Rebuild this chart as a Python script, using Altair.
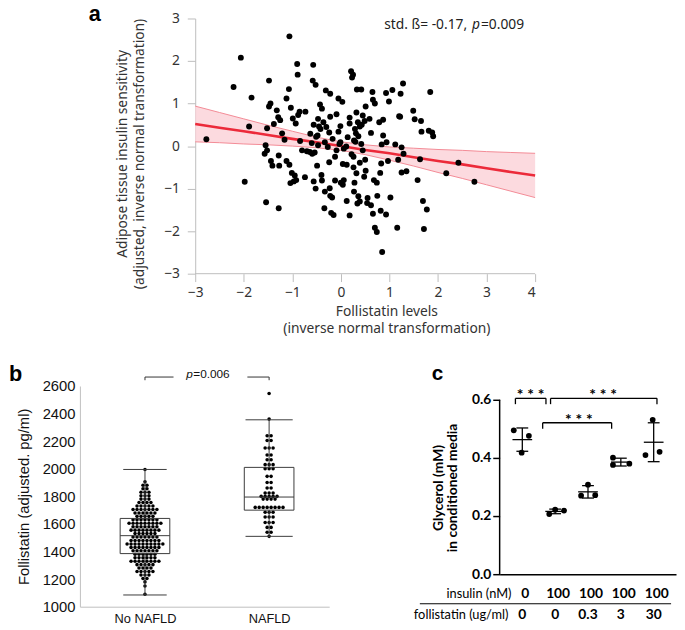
import altair as alt
import pandas as pd
import statistics

# ---------------- panel a data ----------------
fol_levels = [-2.77,-2.21,-2.06,-1.98,-1.89,-1.84,-1.48,-1.48,-1.45,-1.52,-1.55,-1.57,-1.52,-1.54,-1.44,-1.41,
              -1.32,-1.29,-1.25,-1.38,-1.28,-1.27,-1.28,-1.21,-1.16,-1.12,-1.06,-1.07,-1.03,-1.12,-1.06,-1.04,
              -1.01,-0.90,-0.89,-0.99,-0.93,-0.85,-0.84,-0.88,-0.95,-0.92,-0.97,-0.74,-0.73,-0.70,-0.64,-0.57,
              -0.58,-0.52,-0.56,-0.63,-0.60,-0.54,-0.56,-0.52,-0.49,-0.47,-0.45,-0.51,-0.47,-0.43,-0.39,-0.42,
              -0.39,-0.31,-0.22,-0.30,-0.33,-0.27,-0.33,-0.34,-0.24,-0.22,-0.24,-0.23,-0.22,-0.20,-0.15,-0.18,
              -0.12,-0.09,-0.05,-0.09,-0.05,-0.01,0.03,-0.01,0.00,0.04,0.06,0.04,0.12,0.11,0.12,0.18,
              0.21,0.25,0.23,0.18,0.18,0.22,0.27,0.29,0.31,0.33,0.42,0.32,0.35,0.36,0.26,0.26,
              0.28,0.27,0.34,0.32,0.39,0.36,0.39,0.43,0.45,0.51,0.42,0.50,0.51,0.48,0.55,0.54,
              0.62,0.66,0.59,0.62,0.65,0.66,0.70,0.68,0.74,0.70,0.74,0.75,0.79,0.87,0.84,0.83,
              0.81,0.85,0.87,0.82,0.93,0.93,0.94,0.97,0.99,1.06,1.02,1.12,1.18,1.16,1.20,1.23,
              1.28,1.25,1.29,1.25,1.35,1.49,1.52,1.65,1.63,1.58,1.66,1.69,1.77,1.71,1.84,1.81,
              1.88,1.90,2.17,2.42,2.75,-0.48,0.06,-0.03,0.14,0.39,0.49,-0.59,-0.40,-0.17,-0.12,
              0.45,1.22,-0.80,0.30,-0.36]
ais_values = [0.16,1.39,2.08,-0.84,0.46,1.14,1.54,0.93,1.00,0.42,0.02,-0.18,-0.10,-1.32,-0.35,-0.46,
              0.84,0.68,0.61,0.52,-0.22,-0.46,-1.46,0.30,0.15,1.12,2.58,1.34,0.90,-0.35,-0.44,-0.87,
              -0.63,1.93,1.68,0.65,0.53,0.81,0.12,0.73,-0.69,-0.80,-0.83,-0.73,0.81,-0.12,-0.14,1.91,
              1.54,1.44,0.50,0.29,0.07,-0.15,-0.83,-1.00,-0.46,0.64,0.46,0.22,0.02,0.98,0.88,0.40,
              -0.81,1.31,1.23,0.45,0.09,-0.02,-1.07,-1.46,0.32,0.69,-0.38,-0.99,-1.17,-1.57,-1.62,-1.21,
              -0.81,0.75,1.12,-0.10,0.34,0.47,1.04,0.09,-0.86,-0.91,-0.80,-0.42,-0.44,-0.01,-1.29,-1.63,
              1.76,1.68,1.61,0.67,0.53,-0.19,0.13,0.40,0.30,1.33,1.33,0.79,0.56,0.23,-0.25,-0.50,
              -0.86,-1.07,-1.35,-0.64,-0.39,-1.18,-1.30,0.50,0.72,0.93,0.05,-0.32,-0.58,-0.72,-1.22,-1.34,
              -1.39,-1.59,0.64,0.31,1.27,1.09,1.00,-0.80,-0.86,-1.92,-2.02,-1.17,0.56,0.62,0.04,-0.41,
              -0.63,-2.49,0.25,-1.52,-1.61,1.25,0.09,-0.35,1.05,1.32,-1.21,0.04,-0.32,-1.92,0.70,1.23,
              1.47,-0.03,-0.18,-0.62,-0.59,0.83,0.63,0.59,-0.31,-0.80,0.34,-1.29,-1.49,-1.95,1.27,0.36,
              0.32,0.23,-0.64,-0.39,-0.84,0.25,-0.06,0.05,0.21,0.46,0.59,-0.18,-0.68,0.17,-0.25,
              -0.10,0.69,-0.10,0.10,0.56]
band_x = [-3, -2.5, -2, -1.5, -1, -0.5, 0, 0.5, 1, 1.5, 2, 2.5, 3, 3.5, 4]
band_fit = [0.52, 0.43, 0.35, 0.26, 0.17, 0.09, 0.00, -0.09, -0.17, -0.26, -0.35, -0.43, -0.52, -0.61, -0.69]
band_hi = [0.94, 0.79, 0.64, 0.49, 0.35, 0.21, 0.10, 0.03, -0.02, -0.05, -0.08, -0.10, -0.13, -0.15, -0.17]
band_lo = [0.10, 0.08, 0.05, 0.03, 0.00, -0.04, -0.10, -0.20, -0.33, -0.47, -0.62, -0.76, -0.91, -1.06, -1.21]

# ---------------- panel b data ----------------
b_groups = ["No NAFLD", "NAFLD"]
no_nafld_rows = [1090, 1150, 1180, 1205, 1230, 1255, 1280, 1305, 1330, 1355, 1380, 1405, 1430, 1455, 1480,
                 1505, 1530, 1555, 1580, 1605, 1630, 1655, 1680, 1705, 1730, 1755, 1780, 1805, 1830, 1855,
                 1880, 1905, 1995]
no_nafld_counts = [1, 1, 1, 2, 3, 5, 4, 5, 8, 6, 6, 7, 8, 10, 8, 7, 6, 8, 7, 9, 7, 5, 6, 7, 5, 4, 3, 3,
                   3, 2, 2, 1, 1]
nafld_rows = [1510, 1540, 1575, 1610, 1650, 1685, 1720, 1780, 1800, 1825, 1860, 1900, 1945, 2000, 2030,
              2065, 2100, 2150, 2205, 2240, 2360, 2545]
nafld_counts = [1, 2, 2, 3, 3, 3, 8, 4, 5, 3, 2, 2, 2, 3, 3, 2, 2, 3, 2, 2, 1, 1]
b_q1 = [1385, 1700]
b_median = [1515, 1795]
b_q3 = [1640, 2010]
b_whisker_lo = [1085, 1510]
b_whisker_hi = [1995, 2355]

# ---------------- panel c data ----------------
c_insulin = ["0", "100", "100", "100", "100"]
c_follistatin = ["0", "0", "0.3", "3", "30"]
c_glycerol = [[0.495, 0.476, 0.418],
              [0.207, 0.222, 0.219],
              [0.270, 0.308, 0.272],
              [0.401, 0.376, 0.380],
              [0.410, 0.421, 0.531]]
c_spread = [[-0.26, 0.20, -0.02],
            [-0.18, 0.00, 0.27],
            [-0.21, 0.00, 0.22],
            [-0.24, -0.24, 0.26],
            [-0.25, 0.18, -0.03]]

one = pd.DataFrame({"k": [0]})

# =============== PANEL A ===============
FA = "Noto Sans"
GA = "#BDBDBD"
TA = "#333333"
SHIFT = 117  # px that panel a's y-axis sits right of panel b's
a_pts = pd.DataFrame({"x": fol_levels, "y": ais_values})
a_band = pd.DataFrame({"x": band_x, "fit": band_fit, "lo": band_lo, "hi": band_hi})
a_xline = pd.DataFrame({"x1": [-3], "x2": [4], "y": [-3]})

xa_scale = alt.Scale(domain=[-3 - SHIFT / (345 / 7), 4], nice=False, zero=False)
ya_scale = alt.Scale(domain=[-3, 3], nice=False, zero=False)
xa_axis = alt.Axis(values=list(range(-3, 5)), grid=False, domain=False, tickColor=GA, tickSize=8,
                   labelPadding=4, labelFont=FA, labelFontSize=14, labelColor=TA,
                   title=["Follistatin levels", "(inverse normal transformation)"], titleFont=FA,
                   titleFontSize=14, titleFontWeight="normal", titleColor=TA, titlePadding=5,
                   titleLineHeight=18, titleX=SHIFT + 194)
ya_axis = alt.Axis(values=list(range(-3, 4)), grid=False, domainColor=GA, tickColor=GA, tickSize=8,
                   offset=-SHIFT, labelPadding=8, labelFont=FA, labelFontSize=14, labelColor=TA,
                   title=["Adipose tissue insulin sensitivity", "(adjusted, inverse normal transformation)"],
                   titleFont=FA, titleFontSize=14, titleFontWeight="normal", titleColor=TA,
                   titlePadding=17, titleLineHeight=18, titleY=137)

def XA(f):
    return alt.X(f"{f}:Q", scale=xa_scale, axis=xa_axis)

def YA(f):
    return alt.Y(f"{f}:Q", scale=ya_scale, axis=ya_axis)

band = alt.Chart(a_band).mark_area(color="#FBD3D9", opacity=0.85).encode(x=XA("x"), y=YA("lo"), y2="hi:Q")
band_hi_line = alt.Chart(a_band).mark_line(color="#F38A95", strokeWidth=1).encode(x=XA("x"), y=YA("hi"))
band_lo_line = alt.Chart(a_band).mark_line(color="#F38A95", strokeWidth=1).encode(x=XA("x"), y=YA("lo"))
fit_line = alt.Chart(a_band).mark_line(color="#EC2A3A", strokeWidth=2.6).encode(x=XA("x"), y=YA("fit"))
pts = alt.Chart(a_pts).mark_circle(color="black", opacity=1, size=36).encode(x=XA("x"), y=YA("y"))
xline_a = alt.Chart(a_xline).mark_rule(color=GA, strokeWidth=1).encode(x=XA("x1"), x2="x2:Q", y=YA("y"))
lab_a = alt.Chart(one).mark_text(text="a", font="Liberation Sans", fontWeight="bold", fontSize=22,
                                 align="left", baseline="alphabetic", color="black").encode(
    x=alt.value(SHIFT - 108), y=alt.value(3))
ann1 = alt.Chart(one).mark_text(text="std. ß= -0.17,", font=FA, fontSize=14, align="right",
                                baseline="alphabetic", color="#222").encode(x=alt.value(SHIFT + 276), y=alt.value(11))
ann2 = alt.Chart(one).mark_text(text="p", font=FA, fontSize=14, fontStyle="italic", align="left",
                                baseline="alphabetic", color="#222").encode(x=alt.value(SHIFT + 281), y=alt.value(11))
ann3 = alt.Chart(one).mark_text(text="=0.009", font=FA, fontSize=14, align="left",
                                baseline="alphabetic", color="#222").encode(x=alt.value(SHIFT + 290), y=alt.value(11))

panel_a = alt.layer(band, band_hi_line, band_lo_line, fit_line, pts, xline_a, lab_a, ann1, ann2, ann3).properties(
    width=345 + SHIFT, height=259)

# =============== PANEL B ===============
FB = "Liberation Sans"
GB = "#BFBFBF"
step = 0.032
recs = []
for gpos, rows, counts in [(0, no_nafld_rows, no_nafld_counts), (1, nafld_rows, nafld_counts)]:
    for v, n in zip(rows, counts):
        for i in range(n):
            recs.append({"x": gpos + (i - (n - 1) / 2) * step, "y": v})
b_dots = pd.DataFrame(recs)
half = 0.2
b_box = pd.DataFrame({"x": [0, 1], "xl": [-half, 1 - half], "xr": [half, 1 + half], "q1": b_q1,
                      "med": b_median, "q3": b_q3, "lo": b_whisker_lo, "hi": b_whisker_hi,
                      "cl": [-0.175, 1 - 0.19], "cr": [0.175, 1 + 0.19]})

xb_scale = alt.Scale(domain=[-0.524, 1.484], nice=False, zero=False)
yb_scale = alt.Scale(domain=[1000, 2600], nice=False, zero=False)
xb_axis = alt.Axis(values=[0, 1], labelExpr="datum.value == 0 ? 'No NAFLD' : 'NAFLD'", ticks=False,
                   grid=False, domainColor=GB, labelFont=FB, labelFontSize=13, labelColor="#111",
                   labelPadding=6, title="")
yb_axis = alt.Axis(values=list(range(1000, 2601, 200)), format="d", ticks=False, grid=False, domainColor=GB,
                   labelFont=FB, labelFontSize=15, labelColor="#111", labelPadding=5,
                   title="Follistatin (adjusted. pg/ml)", titleFont=FB, titleFontSize=15,
                   titleFontWeight="normal", titleColor="#111", titlePadding=11)

def XB(f):
    return alt.X(f"{f}:Q", scale=xb_scale, axis=xb_axis)

def YB(f):
    return alt.Y(f"{f}:Q", scale=yb_scale, axis=yb_axis)

BOXC = "#3a3a3a"
dots_b = alt.Chart(b_dots).mark_circle(color="black", opacity=1, size=13).encode(x=XB("x"), y=YB("y"))
box_rect = alt.Chart(b_box).mark_rect(fill="transparent", stroke=BOXC, strokeWidth=1).encode(
    x=XB("xl"), x2="xr:Q", y=YB("q1"), y2="q3:Q")
med_rule = alt.Chart(b_box).mark_rule(color=BOXC, strokeWidth=1).encode(x=XB("xl"), x2="xr:Q", y=YB("med"))
wh_up = alt.Chart(b_box).mark_rule(color=BOXC, strokeWidth=1).encode(x=XB("x"), y=YB("q3"), y2="hi:Q")
wh_dn = alt.Chart(b_box).mark_rule(color=BOXC, strokeWidth=1).encode(x=XB("x"), y=YB("lo"), y2="q1:Q")
cap_up = alt.Chart(b_box).mark_rule(color=BOXC, strokeWidth=1).encode(x=XB("cl"), x2="cr:Q", y=YB("hi"))
cap_dn = alt.Chart(b_box).mark_rule(color=BOXC, strokeWidth=1).encode(x=XB("cl"), x2="cr:Q", y=YB("lo"))

brk = pd.DataFrame({"x1": [0, 0.825, 0, 1], "x2": [0.23, 1, 0, 1], "y1": [2665, 2665, 2665, 2665],
                    "y2": [2665, 2665, 2642, 2642]})
brk_b = alt.Chart(brk).mark_rule(color="#333", strokeWidth=1).encode(x=XB("x1"), x2="x2:Q", y=YB("y1"), y2="y2:Q")
pb1 = alt.Chart(one).mark_text(text="p", font=FB, fontSize=12, fontStyle="italic", align="left",
                               baseline="middle", color="#111").encode(x=alt.value(108), y=alt.value(-12))
pb2 = alt.Chart(one).mark_text(text="=0.006", font=FB, fontSize=12, align="left",
                               baseline="middle", color="#111").encode(x=alt.value(115), y=alt.value(-12))
lab_b = alt.Chart(one).mark_text(text="b", font="Liberation Sans", fontWeight="bold", fontSize=22,
                                 align="left", baseline="alphabetic", color="black").encode(
    x=alt.value(-72), y=alt.value(-5))

panel_b = alt.layer(dots_b, box_rect, med_rule, wh_up, wh_dn, cap_up, cap_dn, brk_b, pb1, pb2, lab_b).properties(
    width=253, height=224)

# =============== PANEL C ===============
FC = "Lato"
DROP = 14  # px that panel c's plot top sits below panel b's
c_recs = []
c_stats = []
for g, (vals, spr) in enumerate(zip(c_glycerol, c_spread)):
    for v, s in zip(vals, spr):
        c_recs.append({"x": g + s, "y": v})
    m = statistics.mean(vals)
    sd = statistics.stdev(vals)
    c_stats.append({"x": g, "mean": m, "lo": m - sd, "hi": m + sd, "ml": g - 0.3, "mr": g + 0.3,
                    "cl": g - 0.18, "cr": g + 0.18, "ins": c_insulin[g], "fol": c_follistatin[g]})
c_pts = pd.DataFrame(c_recs)
c_st = pd.DataFrame(c_stats)
c_yline = pd.DataFrame({"x": [-0.69], "y1": [0.0], "y2": [0.6]})

xc_scale = alt.Scale(domain=[-0.69, 4.68], nice=False, zero=False)
yc_scale = alt.Scale(domain=[0, 0.6 + DROP * 0.6 / 177], nice=False, zero=False)
xc_axis = alt.Axis(values=[0], labels=False, ticks=False, grid=False, domainColor="black", domainWidth=1.5,
                   title="")
yc_axis = alt.Axis(values=[0, 0.2, 0.4, 0.6], format=".1f", grid=False, domain=False,
                   tickColor="black", tickWidth=1.5, tickSize=7, labelFont=FC, labelFontSize=14,
                   labelFontWeight="bold", labelColor="black", labelPadding=2,
                   title=["Glycerol (mM)", "in conditioned media"], titleFont=FC, titleFontSize=14,
                   titleFontWeight="bold", titleColor="black", titlePadding=12, titleLineHeight=14,
                   titleY=DROP + 89)

def XC(f):
    return alt.X(f"{f}:Q", scale=xc_scale, axis=xc_axis)

def YC(f):
    return alt.Y(f"{f}:Q", scale=yc_scale, axis=yc_axis)

c_axisline = alt.Chart(c_yline).mark_rule(color="black", strokeWidth=1.5).encode(x=XC("x"), y=YC("y1"), y2="y2:Q")
c_dots = alt.Chart(c_pts).mark_circle(color="black", opacity=1, size=34).encode(x=XC("x"), y=YC("y"))
c_err = alt.Chart(c_st).mark_rule(color="black", strokeWidth=1.3).encode(x=XC("x"), y=YC("lo"), y2="hi:Q")
c_mean = alt.Chart(c_st).mark_rule(color="black", strokeWidth=1.3).encode(x=XC("ml"), x2="mr:Q", y=YC("mean"))
c_cap1 = alt.Chart(c_st).mark_rule(color="black", strokeWidth=1.3).encode(x=XC("cl"), x2="cr:Q", y=YC("hi"))
c_cap2 = alt.Chart(c_st).mark_rule(color="black", strokeWidth=1.3).encode(x=XC("cl"), x2="cr:Q", y=YC("lo"))

sig = pd.DataFrame({"x1": [-0.21, -0.21, 0.72, 0.86, 0.86, 4.1, 0.62, 0.62, 2.72],
                    "x2": [0.72, -0.21, 0.72, 4.1, 0.86, 4.1, 2.72, 0.62, 2.72],
                    "y1": [0.605, 0.605, 0.605, 0.605, 0.605, 0.605, 0.521, 0.521, 0.521],
                    "y2": [0.605, 0.585, 0.585, 0.605, 0.585, 0.585, 0.521, 0.50, 0.50]})
c_sig = alt.Chart(sig).mark_rule(color="black", strokeWidth=1.3).encode(x=XC("x1"), x2="x2:Q", y=YC("y1"),
                                                                         y2="y2:Q")
stars = pd.DataFrame({"x": [0.25, 2.46, 1.72], "y": [0.598, 0.598, 0.514]})
c_stars = alt.Chart(stars).mark_text(text="* * *", font=FC, fontWeight="bold", fontSize=16,
                                     baseline="alphabetic", align="center", color="black").encode(
    x=XC("x"), y=YC("y"))

row_ins = alt.Chart(c_st).mark_text(font=FC, fontWeight="bold", fontSize=14, align="center",
                                   baseline="middle", color="black", dx=3).encode(
    x=XC("x"), y=alt.value(DROP + 197), text="ins:N")
row_fol = alt.Chart(c_st).mark_text(font=FC, fontWeight="bold", fontSize=14, align="center",
                                   baseline="middle", color="black").encode(
    x=XC("x"), y=alt.value(DROP + 218), text="fol:N")
lab_ins = alt.Chart(one).mark_text(text="insulin (nM)", font=FC, fontSize=13, align="right",
                                   baseline="middle", color="black").encode(x=alt.value(12), y=alt.value(DROP + 197))
lab_fol = alt.Chart(one).mark_text(text="follistatin (ug/ml)", font=FC, fontSize=13, align="right",
                                   baseline="middle", color="black").encode(x=alt.value(9), y=alt.value(DROP + 218))
sep = alt.Chart(one).mark_rule(color="black", strokeWidth=1).encode(x=alt.value(-81), x2=alt.value(174),
                                                                   y=alt.value(DROP + 207))
lab_c = alt.Chart(one).mark_text(text="c", font="Liberation Sans", fontWeight="bold", fontSize=21,
                                 align="left", baseline="alphabetic", color="black").encode(
    x=alt.value(-69), y=alt.value(DROP - 20))

panel_c = alt.layer(c_axisline, c_err, c_mean, c_cap1, c_cap2, c_dots, c_sig, c_stars, row_ins, row_fol,
                    lab_ins, lab_fol, sep, lab_c).properties(width=179, height=177 + DROP)

bottom = alt.hconcat(panel_b, panel_c, spacing=84)
chart = alt.vconcat(panel_a, bottom, spacing=26).properties(
    padding={"left": 0, "top": -10, "right": 0, "bottom": 0}
).configure_view(stroke="transparent")

chart.save("out.html", embed_options={"renderer": "svg", "actions": False})
